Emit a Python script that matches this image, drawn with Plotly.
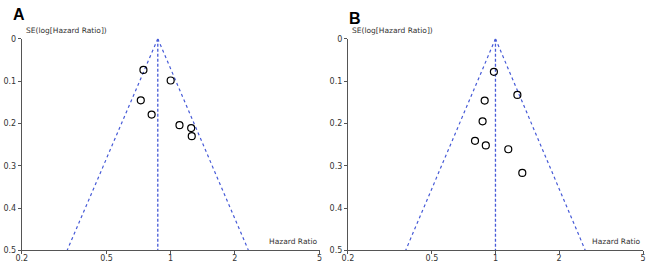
import numpy as np
import plotly.graph_objects as go

# Panel A data
a_hr = [0.745, 1.00, 0.724, 0.814, 1.10, 1.248, 1.256]
a_se = [0.0735, 0.0985, 0.1455, 0.179, 0.204, 0.211, 0.230]
a_pooled = 0.87

# Panel B data
b_hr = [0.983, 1.27, 0.889, 0.869, 0.80, 0.90, 1.15, 1.34]
b_se = [0.078, 0.1326, 0.146, 0.195, 0.241, 0.252, 0.261, 0.317]
b_pooled = 1.0

x_ticks = [0.2, 0.5, 1, 2, 5]
x_tick_text = ["0.2", "0.5", "1", "2", "5"]
y_ticks = [0, 0.1, 0.2, 0.3, 0.4, 0.5]
y_tick_text = ["0", "0.1", "0.2", "0.3", "0.4", "0.5"]
se_max = 0.5

FUNNEL = "rgb(70,90,215)"
FONT = "DejaVu Sans"

fig = go.Figure()

panels = [
    (a_hr, a_se, a_pooled, "x", "y"),
    (b_hr, b_se, b_pooled, "x2", "y2"),
]

for hr, se, pooled, xa, ya in panels:
    se_line = [0, se_max]
    lo = [pooled * np.exp(-1.96 * s) for s in se_line]
    hi = [pooled * np.exp(1.96 * s) for s in se_line]
    fig.add_trace(go.Scatter(x=lo, y=se_line, mode="lines", xaxis=xa, yaxis=ya,
                             line=dict(color=FUNNEL, width=1.2, dash="dot"),
                             showlegend=False, hoverinfo="skip"))
    fig.add_trace(go.Scatter(x=hi, y=se_line, mode="lines", xaxis=xa, yaxis=ya,
                             line=dict(color=FUNNEL, width=1.2, dash="dot"),
                             showlegend=False, hoverinfo="skip"))
    fig.add_trace(go.Scatter(x=[pooled, pooled], y=se_line, mode="lines", xaxis=xa, yaxis=ya,
                             line=dict(color=FUNNEL, width=1.3, dash="3px,2px"),
                             showlegend=False, hoverinfo="skip"))
    fig.add_trace(go.Scatter(x=hr, y=se, mode="markers", xaxis=xa, yaxis=ya,
                             marker=dict(symbol="circle-open", size=7, color="black",
                                         line=dict(width=1.2, color="black")),
                             showlegend=False))

axis_common = dict(showgrid=False, zeroline=False, showline=True,
                   linecolor="#555", linewidth=1, ticks="outside", ticklen=3,
                   tickcolor="#555", tickfont=dict(family=FONT, size=8, color="#333"))

XA = [0.0246, 0.4892]
XB = [0.5334, 0.9938]
YD = [0.0485, 0.8657]

fig.update_layout(
    width=650, height=268,
    margin=dict(l=0, r=0, t=0, b=0),
    paper_bgcolor="white", plot_bgcolor="white",
    xaxis=dict(type="log", range=[np.log10(0.2), np.log10(5)], domain=XA,
               anchor="y", tickvals=x_ticks, ticktext=x_tick_text,
               ticklabelstandoff=-3, **axis_common),
    yaxis=dict(range=[0.5, 0], domain=YD, anchor="x",
               tickvals=y_ticks, ticktext=y_tick_text, **axis_common),
    xaxis2=dict(type="log", range=[np.log10(0.2), np.log10(5)], domain=XB,
                anchor="y2", tickvals=x_ticks, ticktext=x_tick_text,
                ticklabelstandoff=-3, **axis_common),
    yaxis2=dict(range=[0.5, 0], domain=YD, anchor="x2",
                tickvals=y_ticks, ticktext=y_tick_text, **axis_common),
)

for x0, x1 in [XA, XB]:
    fig.add_annotation(text="SE(log[Hazard Ratio])", xref="paper", yref="paper",
                       x=x0 + 0.004, y=YD[1] + 0.008, xanchor="left", yanchor="bottom",
                       showarrow=False, font=dict(family=FONT, size=7.5, color="#333"))
    fig.add_annotation(text="Hazard Ratio", xref="paper", yref="paper",
                       x=x1, y=YD[0] + 0.008, xanchor="right", yanchor="bottom",
                       showarrow=False, font=dict(family=FONT, size=7.5, color="#333"))

fig.add_annotation(text="<b>A</b>", xref="paper", yref="paper", x=0.008, y=1.0,
                   xanchor="left", yanchor="top", showarrow=False,
                   font=dict(family="Liberation Sans", size=16, color="black"))
fig.add_annotation(text="<b>B</b>", xref="paper", yref="paper", x=0.532, y=0.985,
                   xanchor="left", yanchor="top", showarrow=False,
                   font=dict(family="Liberation Sans", size=16, color="black"))

fig.write_html("out.html", config={"displayModeBar": False},
               post_script="document.body.style.margin='0';")
